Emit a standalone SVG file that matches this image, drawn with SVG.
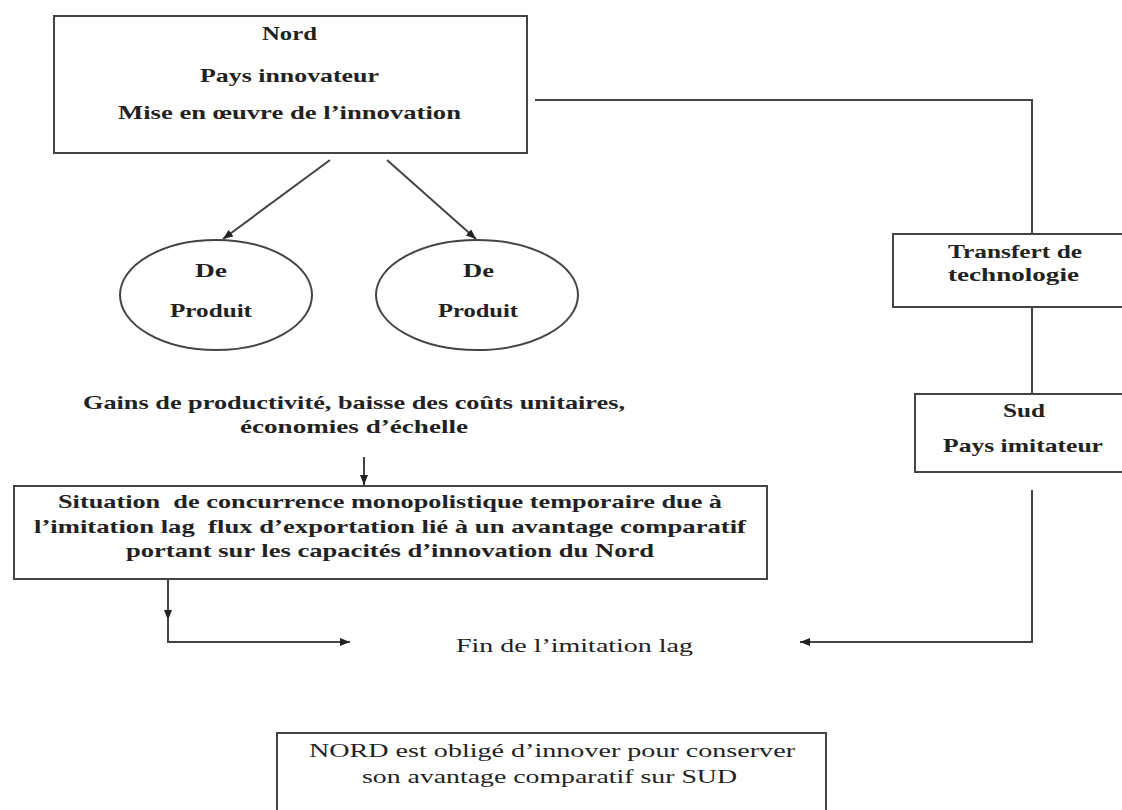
<svg xmlns="http://www.w3.org/2000/svg" width="1122" height="810" viewBox="0 0 1122 810">
  <style>
    .box { fill: #ffffff; stroke: #444444; stroke-width: 2; }
    .edge { fill: none; stroke: #444444; stroke-width: 2; }
    .t { font-family: "Liberation Serif", "Times New Roman", serif; font-size: 19px; fill: #222222; }
    .b { font-weight: bold; }
  </style>
  <defs>
    <marker id="arrow" viewBox="0 0 10 8" refX="10" refY="4" markerWidth="10" markerHeight="8" markerUnits="userSpaceOnUse" orient="auto">
      <path d="M0,0 L10,4 L0,8 z" fill="#222222"/>
    </marker>
  </defs>
  <rect width="1122" height="810" fill="#ffffff"/>

  <!-- connectors -->
  <g id="connectors">
    <line class="edge" x1="330" y1="160" x2="223" y2="239" marker-end="url(#arrow)"/>
    <line class="edge" x1="387" y1="160" x2="476" y2="239" marker-end="url(#arrow)"/>
    <polyline class="edge" points="535,100 1032,100 1032,234"/>
    <line class="edge" x1="1032" y1="307" x2="1032" y2="394"/>
    <polyline class="edge" points="1032,490 1032,642 800,642" marker-end="url(#arrow)"/>
    <line class="edge" x1="364" y1="457" x2="364" y2="485" marker-end="url(#arrow)"/>
    <line class="edge" x1="168" y1="579" x2="168" y2="620" marker-end="url(#arrow)"/>
    <polyline class="edge" points="168,618 168,642 350,642" marker-end="url(#arrow)"/>
  </g>

  <!-- innovating country -->
  <g id="nord">
    <rect class="box" x="54" y="16" width="473" height="137"/>
    <text class="t b" x="262" y="40" textLength="55" lengthAdjust="spacingAndGlyphs">Nord</text>
    <text class="t b" x="200" y="82" textLength="179" lengthAdjust="spacingAndGlyphs">Pays innovateur</text>
    <text class="t b" x="118" y="119" textLength="343" lengthAdjust="spacingAndGlyphs">Mise en œuvre de l’innovation</text>
  </g>

  <!-- innovation types -->
  <g id="produit-1">
    <ellipse class="box" cx="216" cy="295" rx="96" ry="55"/>
    <text class="t b" x="195" y="277" textLength="32" lengthAdjust="spacingAndGlyphs">De</text>
    <text class="t b" x="170" y="317" textLength="82" lengthAdjust="spacingAndGlyphs">Produit</text>
  </g>
  <g id="produit-2">
    <ellipse class="box" cx="477" cy="295" rx="101" ry="55"/>
    <text class="t b" x="463" y="277" textLength="31" lengthAdjust="spacingAndGlyphs">De</text>
    <text class="t b" x="438" y="317" textLength="80" lengthAdjust="spacingAndGlyphs">Produit</text>
  </g>

  <!-- technology transfer -->
  <g id="transfert">
    <rect class="box" x="893" y="234" width="240" height="73"/>
    <text class="t b" x="948" y="258" textLength="134" lengthAdjust="spacingAndGlyphs">Transfert de</text>
    <text class="t b" x="948" y="281" textLength="131" lengthAdjust="spacingAndGlyphs">technologie</text>
  </g>

  <!-- imitating country -->
  <g id="sud">
    <rect class="box" x="915" y="394" width="220" height="78"/>
    <text class="t b" x="1003" y="417" textLength="42" lengthAdjust="spacingAndGlyphs">Sud</text>
    <text class="t b" x="943" y="452" textLength="160" lengthAdjust="spacingAndGlyphs">Pays imitateur</text>
  </g>

  <!-- productivity gains -->
  <g id="gains">
    <text class="t b" x="83" y="409" textLength="542" lengthAdjust="spacingAndGlyphs">Gains de productivité, baisse des coûts unitaires,</text>
    <text class="t b" x="240" y="433" textLength="228" lengthAdjust="spacingAndGlyphs">économies d’échelle</text>
  </g>

  <!-- temporary monopolistic competition -->
  <g id="situation">
    <rect class="box" x="14" y="486" width="753" height="93"/>
    <text class="t b" x="58" y="508" textLength="664" lengthAdjust="spacingAndGlyphs" xml:space="preserve">Situation  de concurrence monopolistique temporaire due à</text>
    <text class="t b" x="34" y="533" textLength="712" lengthAdjust="spacingAndGlyphs" xml:space="preserve">l’imitation lag  flux d’exportation lié à un avantage comparatif</text>
    <text class="t b" x="126" y="557" textLength="528" lengthAdjust="spacingAndGlyphs">portant sur les capacités d’innovation du Nord</text>
  </g>

  <!-- end of the imitation lag -->
  <g id="fin">
    <text class="t" x="456" y="652" textLength="237" lengthAdjust="spacingAndGlyphs">Fin de l’imitation lag</text>
  </g>

  <!-- conclusion -->
  <g id="conclusion">
    <rect class="box" x="277" y="733" width="549" height="90"/>
    <text class="t" x="309" y="757" textLength="486" lengthAdjust="spacingAndGlyphs">NORD est obligé d’innover pour conserver</text>
    <text class="t" x="362" y="783" textLength="375" lengthAdjust="spacingAndGlyphs">son avantage comparatif sur SUD</text>
  </g>
</svg>
